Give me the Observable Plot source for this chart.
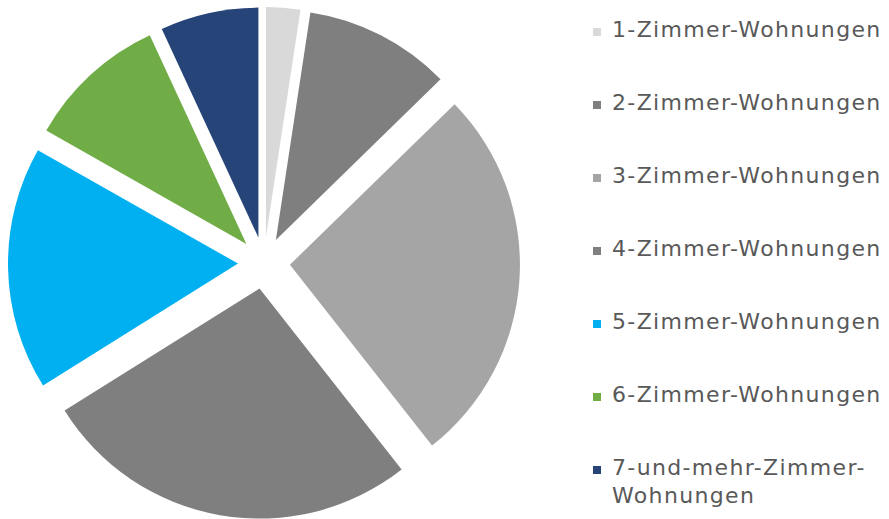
<!DOCTYPE html>
<html><head><meta charset="utf-8">
<script src="https://cdn.jsdelivr.net/npm/d3@7"></script>
<script src="https://cdn.jsdelivr.net/npm/@observablehq/plot@0.6"></script>
<style>
body{margin:0;background:#fff;font-family:"DejaVu Sans",Verdana,sans-serif;}
#wrap{position:relative;width:889px;height:519px;overflow:hidden;}
#chart{position:absolute;left:0;top:0;}
.row{position:absolute;left:593px;width:296px;display:flex;align-items:flex-start;}
.sw{width:8px;height:8px;margin-top:12px;margin-right:11px;flex:none;}
.lb{font-size:22px;letter-spacing:1.35px;color:#595959;line-height:28px;width:277px;}
</style></head><body><div id="wrap"><div id="chart"></div><div id="legend"></div></div>
<script>
const categories = ["1-Zimmer-Wohnungen","2-Zimmer-Wohnungen","3-Zimmer-Wohnungen","4-Zimmer-Wohnungen","5-Zimmer-Wohnungen","6-Zimmer-Wohnungen","7-und-mehr-Zimmer-Wohnungen"];
const shares = [2.4, 10.3, 26.7, 26.7, 17.1, 9.9, 6.9];
const colors = ["#d9d9d9","#7f7f7f","#a5a5a5","#7f7f7f","#00b0f0","#70ad47","#264478"];

const explode = 0.113;
const data = categories.map((c, i) => ({category: c, value: shares[i], color: colors[i]}));
const arcs = d3.pie().sort(null).value(d => d.value)(data).map(a => {
  const mid = (a.startAngle + a.endAngle) / 2;
  return {...a, ox: explode * Math.sin(mid), oy: explode * Math.cos(mid)};
});

const W = 540, H = 519, R = 230, CX = 264, CY = 263;
const chart = Plot.plot({
  width: W, height: H, margin: 0,
  x: {domain: [-CX / R, (W - CX) / R], axis: null},
  y: {domain: [-(H - CY) / R, CY / R], axis: null},
  marks: [
    Plot.dot(arcs, {x: "ox", y: "oy", r: 0, fill: "none", stroke: "none"}),
    (index, scales) => {
      const g = d3.create("svg:g");
      const k = scales.x(1) - scales.x(0);
      const arc = d3.arc().innerRadius(0).outerRadius(k);
      for (const a of arcs) {
        g.append("path")
          .attr("d", arc({startAngle: a.startAngle, endAngle: a.endAngle}))
          .attr("fill", a.data.color)
          .attr("transform", `translate(${scales.x(a.ox)},${scales.y(a.oy)})`);
      }
      return g.node();
    }
  ]
});
document.getElementById("chart").appendChild(chart);

const legend = document.getElementById("legend");
categories.forEach((c, i) => {
  const row = document.createElement("div");
  row.className = "row";
  row.style.top = (15.5 + i * 73) + "px";
  const sw = document.createElement("div");
  sw.className = "sw"; sw.style.background = colors[i];
  const lb = document.createElement("div");
  lb.className = "lb"; lb.textContent = c;
  row.appendChild(sw); row.appendChild(lb);
  legend.appendChild(row);
});
</script></body></html>
